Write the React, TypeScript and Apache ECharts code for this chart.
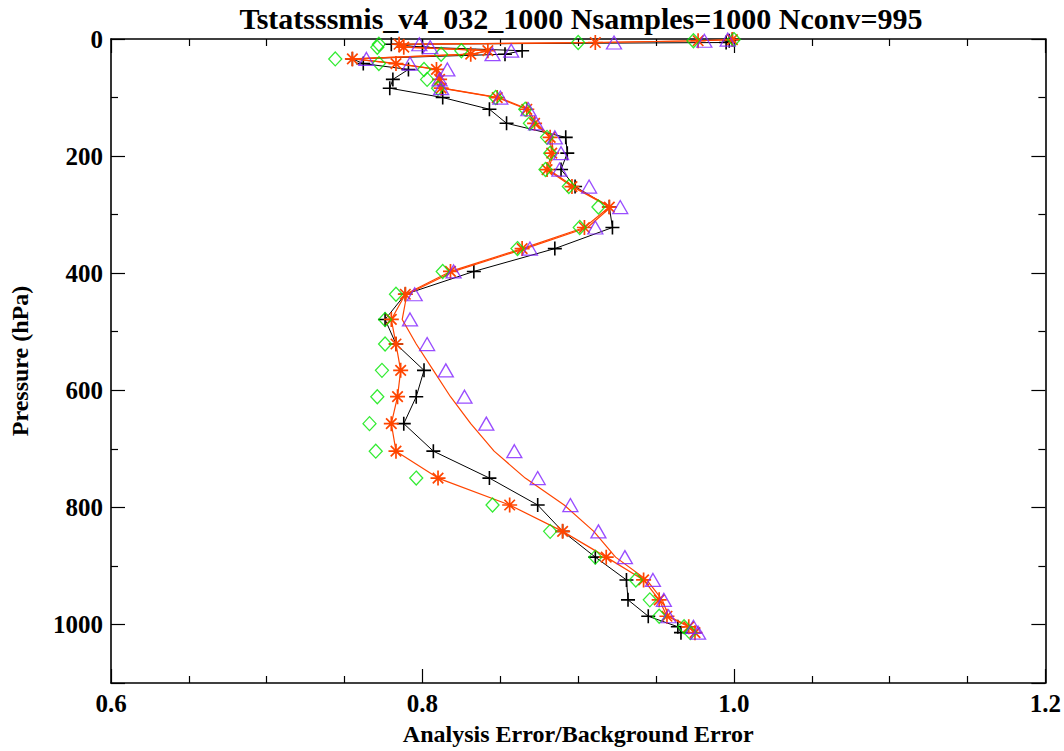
import React, { useEffect, useRef } from "react";
import * as echarts from "echarts";

// Pressure levels (hPa)
const levels = [1, 3, 6, 9, 14, 20, 26, 34, 42, 52, 69, 84, 100, 120, 144, 168, 195, 223, 252, 287, 322, 358, 397, 436, 479, 521, 566, 611, 657, 704, 750, 796, 841, 885, 924, 958, 986, 1004, 1014];

// Black "+" series
const blackPlus = [0.999, 0.997, 0.995, 0.780, 0.800, 0.864, 0.853, 0.755, 0.762, 0.791, 0.781, 0.779, 0.813, 0.843, 0.854, 0.892, 0.893, 0.889, 0.898, 0.920, 0.922, 0.885, 0.833, 0.789, 0.776, 0.783, 0.801, 0.796, 0.788, 0.807, 0.843, 0.874, 0.890, 0.911, 0.931, 0.932, 0.945, 0.964, 0.966];

// Red asterisk series
const redStar = [0.999, 0.977, 0.911, 0.785, 0.788, 0.842, 0.831, 0.755, 0.783, 0.809, 0.811, 0.812, 0.848, 0.867, 0.872, 0.882, 0.883, 0.880, 0.896, 0.920, 0.904, 0.864, 0.818, 0.789, 0.780, 0.783, 0.786, 0.784, 0.780, 0.783, 0.810, 0.856, 0.890, 0.918, 0.942, 0.952, 0.957, 0.971, 0.975];

// Red line without markers
const redLine = [0.999, 0.978, 0.912, 0.786, 0.789, 0.843, 0.832, 0.756, 0.784, 0.810, 0.812, 0.813, 0.849, 0.868, 0.873, 0.883, 0.884, 0.881, 0.897, 0.921, 0.906, 0.866, 0.820, 0.790, 0.787, 0.796, 0.807, 0.818, 0.831, 0.846, 0.866, 0.891, 0.910, 0.924, 0.944, 0.954, 0.958, 0.972, 0.976];

// Green diamonds
const greenDiamond = [1.000, 0.974, 0.900, 0.772, 0.771, 0.825, 0.812, 0.744, 0.772, 0.801, 0.803, 0.810, 0.847, 0.866, 0.869, 0.880, 0.882, 0.879, 0.894, 0.913, 0.901, 0.861, 0.813, 0.783, 0.776, 0.776, 0.774, 0.771, 0.766, 0.770, 0.796, 0.845, 0.882, 0.911, 0.937, 0.946, 0.952, 0.968, 0.972];

// Purple triangles
const purpleTriangle = [0.996, 0.981, 0.923, 0.798, 0.805, 0.857, 0.845, 0.764, 0.792, 0.816, 0.811, 0.812, 0.850, 0.868, 0.873, 0.885, 0.889, 0.888, 0.907, 0.927, 0.911, 0.869, 0.820, 0.795, 0.792, 0.803, 0.815, 0.827, 0.841, 0.859, 0.874, 0.895, 0.913, 0.930, 0.948, 0.955, 0.958, 0.974, 0.977];

const xTicks = ["0.6", "0.8", "1.0", "1.2"];

const TITLE = "Tstatsssmis_v4_032_1000 Nsamples=1000 Nconv=995";
const XNAME = "Analysis Error/Background Error";
const YNAME = "Pressure (hPa)";

const FONT = "'Liberation Serif', 'Times New Roman', serif";
const RED = "#ff4500";
const GREEN = "#00e600";
const PURPLE = "#8020ff";

const pair = (vals: number[]) => vals.map((v, i) => [v, levels[i]]);

export default function App() {
  const ref = useRef<HTMLDivElement>(null);
  useEffect(() => {
    if (!ref.current) return;
    const chart = echarts.init(ref.current, null, { renderer: "svg" });
    const axisCommon = {
      axisLine: { show: true, onZero: false, lineStyle: { color: "#000", width: 1.6 } },
      splitLine: { show: false },
    };
    const xBase = {
      type: "value",
      min: 0.6,
      max: 1.2,
      interval: 0.2,
      ...axisCommon,
      axisTick: { show: true, inside: true, length: 14, lineStyle: { color: "#000", width: 1.2 } },
      minorTick: { show: true, splitNumber: 4, length: 7, lineStyle: { color: "#000", width: 1.2 } },
    };
    const yBase = {
      type: "value",
      min: 0,
      max: 1100,
      interval: 200,
      inverse: true,
      ...axisCommon,
      axisTick: { show: true, inside: true, length: 14, lineStyle: { color: "#000", width: 1.2 } },
      minorTick: { show: true, splitNumber: 2, length: 7, lineStyle: { color: "#000", width: 1.2 } },
    };
    chart.setOption({
      animation: false,
      backgroundColor: "#fff",
      title: {
        text: TITLE,
        left: 576,
        textAlign: "center",
        top: -2,
        textStyle: { fontFamily: FONT, fontWeight: "bold", fontSize: 30, color: "#000" },
      },
      grid: { left: 105, right: 17, top: 39, bottom: 62, containLabel: false },
      xAxis: [
        {
          ...xBase,
          position: "bottom",
          name: XNAME,
          nameLocation: "middle",
          nameGap: 39,
          nameTextStyle: { fontFamily: FONT, fontWeight: "bold", fontSize: 24, color: "#000" },
          axisLabel: {
            show: true,
            margin: 8,
            fontFamily: FONT,
            fontWeight: "bold",
            fontSize: 25,
            color: "#000",
            formatter: (v: number) => {
              const s = v.toFixed(1);
              return xTicks.includes(s) ? s : "";
            },
          },
        },
        { ...xBase, position: "top", axisLabel: { show: false } },
      ],
      yAxis: [
        {
          ...yBase,
          position: "left",
          name: YNAME,
          nameLocation: "middle",
          nameGap: 79,
          nameRotate: 90,
          nameTextStyle: { fontFamily: FONT, fontWeight: "bold", fontSize: 24, color: "#000" },
          axisLabel: {
            show: true,
            margin: 8,
            fontFamily: FONT,
            fontWeight: "bold",
            fontSize: 25,
            color: "#000",
            formatter: (v: number) => (v <= 1000 ? String(v) : ""),
          },
        },
        { ...yBase, position: "right", axisLabel: { show: false } },
      ],
      series: [
        {
          type: "line",
          data: pair(blackPlus),
          symbol: "path://M0,-10L0,10M-10,0L10,0",
          symbolSize: 14,
          showAllSymbol: true,
          lineStyle: { color: "#000", width: 1 },
          itemStyle: { color: "transparent", borderColor: "#000", borderWidth: 1.6 },
          z: 2,
        },
        {
          type: "line",
          data: pair(redLine),
          symbol: "none",
          lineStyle: { color: RED, width: 1.2 },
          z: 3,
        },
        {
          type: "line",
          data: pair(redStar),
          symbol: "path://M0,-10L0,10M-10,0L10,0M-7,-7L7,7M-7,7L7,-7",
          symbolSize: 15,
          showAllSymbol: true,
          lineStyle: { color: RED, width: 1.2 },
          itemStyle: { color: "transparent", borderColor: RED, borderWidth: 1.7 },
          z: 4,
        },
        {
          type: "scatter",
          data: pair(greenDiamond),
          symbol: "diamond",
          symbolSize: [13, 14],
          itemStyle: { color: "transparent", borderColor: GREEN, borderWidth: 1.3 },
          z: 5,
        },
        {
          type: "scatter",
          data: pair(purpleTriangle),
          symbol: "triangle",
          symbolSize: [15, 13],
          itemStyle: { color: "transparent", borderColor: PURPLE, borderWidth: 1.3 },
          z: 6,
        },
      ],
    });
    return () => chart.dispose();
  }, []);
  return (
    <div
      ref={ref}
      style={{ position: "fixed", left: 0, top: 0, width: 1064, height: 751, background: "#fff" }}
    />
  );
}
